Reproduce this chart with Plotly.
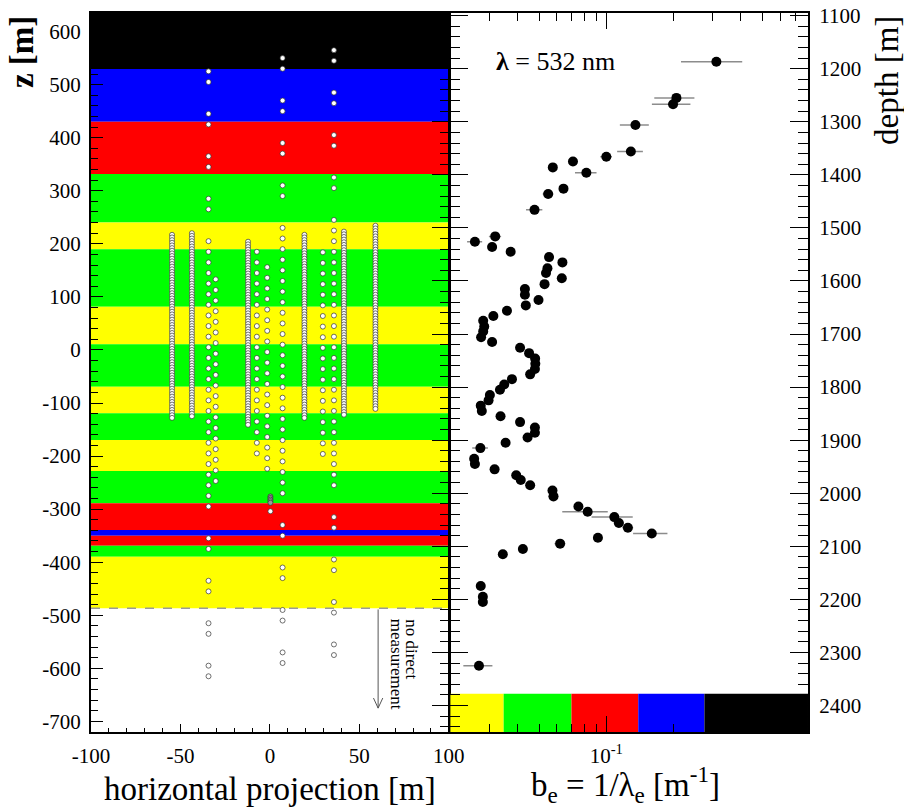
import numpy as np
import plotly.graph_objects as go

# ---------------- Left panel: detector geometry -----------------
# long strings (paired modules at the ends, 20 m spacing in the middle)
LONG_H = [-34.3, 7.1, 35.8]
LONG_Z = [
    [525, 505, 445, 425, 365, 345, 285, 265,
     205, 185, 165, 145, 125, 105, 85, 65, 45, 25, 5, -15, -35, -55, -75, -95,
     -115, -135, -155, -175, -195, -215, -235, -255, -275, -295,
     -355, -375, -435, -455, -515, -535, -595, -615],
    [550, 530, 470, 450, 390, 370, 310, 290,
     230, 210, 190, 170, 150, 130, 110, 90, 70, 50, 30, 10, -10, -30, -50, -70,
     -90, -110, -130, -150, -170, -190, -210, -230, -250, -270,
     -330, -350, -410, -430, -490, -510, -570, -590],
    [565, 545, 485, 465, 405, 385, 325, 305,
     245, 225, 205, 185, 165, 145, 125, 105, 85, 65, 45, 25, 5, -15, -35, -55,
     -75, -95, -115, -135, -155, -175, -195, -215, -235, -255,
     -315, -335, -395, -415, -475, -495, -555, -575],
]
# 20 m spaced strings
SPARSE_H = [-30.3, -7.3, -1.5, 29.6]
SPARSE_Z = [
    [133, 113, 93, 73, 53, 33, 13, -7, -27, -47, -67, -87, -107, -127, -147,
     -167, -187, -207, -227, -247],
    [185, 165, 145, 125, 105, 85, 65, 45, 25, 5, -15, -35, -55, -75, -95,
     -115, -135, -155, -175, -195],
    [156, 136, 116, 96, 76, 56, 36, 16, -4, -24, -44, -64, -84, -104, -124,
     -144, -164, -184, -204, -224],
    [184, 164, 144, 124, 104, 84, 64, 44, 24, 4, -16, -36, -56, -76, -96,
     -116, -136, -156, -176, -196],
]
# densely instrumented strings
DENSE_H = [-54.7, -43.6, -12.2, 19.3, 41.4, 59.0]
DENSE_Z = [
    [217, 212, 207, 202, 197, 192, 187, 182, 177, 172, 167, 162, 157, 152,
     147, 142, 137, 132, 127, 122, 117, 112, 107, 102, 97, 92, 87, 82, 77, 72,
     67, 62, 57, 52, 47, 42, 37, 32, 27, 22, 17, 12, 7, 2, -3, -8, -13, -18,
     -23, -28, -33, -38, -43, -48, -53, -58, -63, -68, -73, -78, -83, -88,
     -93, -98, -103, -108, -113, -118, -123, -128],
    [220, 215, 210, 205, 200, 195, 190, 185, 180, 175, 170, 165, 160, 155,
     150, 145, 140, 135, 130, 125, 120, 115, 110, 105, 100, 95, 90, 85, 80,
     75, 70, 65, 60, 55, 50, 45, 40, 35, 30, 25, 20, 15, 10, 5, 0, -5, -10,
     -15, -20, -25, -30, -35, -40, -45, -50, -55, -60, -65, -70, -75, -80,
     -85, -90, -95, -100, -105, -110, -115, -120, -125],
    [204, 199, 194, 189, 184, 179, 174, 169, 164, 159, 154, 149, 144, 139,
     134, 129, 124, 119, 114, 109, 104, 99, 94, 89, 84, 79, 74, 69, 64, 59,
     54, 49, 44, 39, 34, 29, 24, 19, 14, 9, 4, -1, -6, -11, -16, -21, -26,
     -31, -36, -41, -46, -51, -56, -61, -66, -71, -76, -81, -86, -91, -96,
     -101, -106, -111, -116, -121, -126, -131, -136, -141],
    [217, 212, 207, 202, 197, 192, 187, 182, 177, 172, 167, 162, 157, 152,
     147, 142, 137, 132, 127, 122, 117, 112, 107, 102, 97, 92, 87, 82, 77, 72,
     67, 62, 57, 52, 47, 42, 37, 32, 27, 22, 17, 12, 7, 2, -3, -8, -13, -18,
     -23, -28, -33, -38, -43, -48, -53, -58, -63, -68, -73, -78, -83, -88,
     -93, -98, -103, -108, -113, -118, -123, -128],
    [223, 218, 213, 208, 203, 198, 193, 188, 183, 178, 173, 168, 163, 158,
     153, 148, 143, 138, 133, 128, 123, 118, 113, 108, 103, 98, 93, 88, 83,
     78, 73, 68, 63, 58, 53, 48, 43, 38, 33, 28, 23, 18, 13, 8, 3, -2, -7,
     -12, -17, -22, -27, -32, -37, -42, -47, -52, -57, -62, -67, -72, -77,
     -82, -87, -92, -97, -102, -107, -112, -117, -122],
    [234, 229, 224, 219, 214, 209, 204, 199, 194, 189, 184, 179, 174, 169,
     164, 159, 154, 149, 144, 139, 134, 129, 124, 119, 114, 109, 104, 99, 94,
     89, 84, 79, 74, 69, 64, 59, 54, 49, 44, 39, 34, 29, 24, 19, 14, 9, 4,
     -1, -6, -11, -16, -21, -26, -31, -36, -41, -46, -51, -56, -61, -66, -71,
     -76, -81, -86, -91, -96, -101, -106, -111],
]
# small cluster of modules near h = 0
CLUSTER_H = [0.3, 0.3, 0.3, 0.3, 0.3]
CLUSTER_Z = [-276, -279, -282, -285, -288]
EXTRA_H = [0.3]
EXTRA_Z = [-304]

# ice layers (z boundaries, top to bottom) and colours
BAND_TOP = [635, 529.5, 430, 331.6, 240, 190, 81.5, 10.6, -69.3, -119.4,
            -169.8, -228.2, -289, -339.4, -350, -369, -389.7]
BAND_BOT = [529.5, 430, 331.6, 240, 190, 81.5, 10.6, -69.3, -119.4, -169.8,
            -228.2, -289, -339.4, -350, -369, -389.7, -487]
BAND_COL = ["black", "blue", "red", "lime", "yellow", "lime", "yellow", "lime",
            "yellow", "lime", "yellow", "lime", "red", "blue", "red", "lime",
            "yellow"]
NO_MEAS_Z = -487

# ---------------- Right panel: effective scattering -----------------
DEPTH = [1187, 1255, 1267, 1306, 1356, 1366, 1375, 1386, 1396, 1426, 1436,
         1466, 1516, 1526, 1536, 1545, 1555, 1565, 1576, 1585, 1595, 1606,
         1615, 1626, 1636, 1646, 1656, 1666, 1675, 1686, 1695, 1706, 1715,
         1726, 1736, 1746, 1756, 1766, 1776, 1785, 1795, 1805, 1815, 1825,
         1835, 1845, 1855, 1866, 1876, 1886, 1895, 1905, 1915, 1935, 1945,
         1955, 1966, 1975, 1985, 1995, 2006, 2025, 2035, 2045, 2056, 2065,
         2076, 2084, 2095, 2105, 2115, 2175, 2195, 2205, 2325]
BE = [0.311, 0.206, 0.199, 0.135, 0.1288, 0.100, 0.0709, 0.0576, 0.0814,
      0.0643, 0.0549, 0.0477, 0.0318, 0.0258, 0.0308, 0.0373, 0.0554, 0.0636,
      0.0545, 0.0537, 0.0632, 0.0529, 0.0432, 0.0432, 0.0497, 0.0436, 0.0359,
      0.0312, 0.0281, 0.0284, 0.0281, 0.0275, 0.0308, 0.0411, 0.0451, 0.0480,
      0.0481, 0.0479, 0.0456, 0.0378, 0.0349, 0.0334, 0.0301, 0.0297, 0.0274,
      0.0277, 0.0336, 0.0411, 0.0479, 0.0479, 0.0444, 0.0354, 0.0273, 0.0256,
      0.0258, 0.0316, 0.0395, 0.0414, 0.0456, 0.0574, 0.0580, 0.0750, 0.0825,
      0.1086, 0.1138, 0.1249, 0.1598, 0.0917, 0.0621, 0.0423, 0.0344, 0.0274,
      0.0280, 0.0280, 0.0269]
BE_ERR = [0.095, 0.042, 0.039, 0.020, 0.017, 0.006, 0.002, 0.002, 0.009,
          0.002, 0.003, 0.004, 0.002, 0.002, 0.001, 0.001, 0.002, 0.002,
          0.002, 0.002, 0.002, 0.002, 0.001, 0.001, 0.002, 0.001, 0.001,
          0.001, 0.001, 0.001, 0.001, 0.001, 0.001, 0.001, 0.001, 0.001,
          0.001, 0.001, 0.001, 0.001, 0.001, 0.001, 0.001, 0.001, 0.001,
          0.001, 0.001, 0.001, 0.001, 0.001, 0.001, 0.001, 0.0022, 0.001,
          0.001, 0.001, 0.001, 0.001, 0.001, 0.002, 0.003, 0.0025, 0.019,
          0.0227, 0.006, 0.007, 0.028, 0.0045, 0.0035, 0.002, 0.001, 0.001,
          0.001, 0.001, 0.004]

# colour scale of the layers (b_e thresholds)
SCALE_EDGES = [0.02, 0.0347, 0.0698, 0.139, 0.275, 0.8]
SCALE_COL = ["yellow", "lime", "red", "blue", "black"]
SCALE_DEPTH = [2378, 2450]

Z_RANGE = [-720, 635]
DEPTH_RANGE = [2450, 1095]
H_TICKS = [-100, -50, 0, 50, 100]
Z_TICKS = [-700, -600, -500, -400, -300, -200, -100, 0, 100, 200, 300, 400, 500, 600]
B_TICKS = [0.1]
B_MINOR = [0.03, 0.04, 0.05, 0.06, 0.07, 0.08, 0.09, 0.2, 0.3, 0.4, 0.5, 0.6, 0.7]

FONT = "Liberation Serif"

# ---- build module lists ----
mod_h, mod_z = [], []
for group_h, group_z in ((LONG_H, LONG_Z), (SPARSE_H, SPARSE_Z),
                         (DENSE_H, DENSE_Z)):
    for h, zs in zip(group_h, group_z):
        mod_h += [h] * len(zs)
        mod_z += zs
mod_h += EXTRA_H
mod_z += EXTRA_Z

fig = go.Figure()

fig.add_trace(go.Scatter(
    x=mod_h, y=mod_z, mode="markers", xaxis="x", yaxis="y",
    marker=dict(size=5, color="white", line=dict(color="#333333", width=0.7)),
    hoverinfo="skip", showlegend=False))
fig.add_trace(go.Scatter(
    x=CLUSTER_H, y=CLUSTER_Z, mode="markers", xaxis="x", yaxis="y",
    marker=dict(size=5, color="#9a9a9a", line=dict(color="#333333", width=0.7)),
    hoverinfo="skip", showlegend=False))

fig.add_trace(go.Scatter(
    x=BE, y=DEPTH, mode="markers", xaxis="x2", yaxis="y2",
    marker=dict(size=10, color="black"),
    error_x=dict(type="data", array=BE_ERR, color="#8c8c8c", thickness=1.5,
                 width=0),
    showlegend=False))
# helper trace for the crossing tick overlay axis
fig.add_trace(go.Scatter(x=[0.1], y=[1500], mode="markers", xaxis="x2",
                         yaxis="y3", marker=dict(opacity=0), hoverinfo="skip",
                         showlegend=False))

shapes = []
for t, b, c in zip(BAND_TOP, BAND_BOT, BAND_COL):
    shapes.append(dict(type="rect", xref="x", yref="y", x0=H_TICKS[0],
                       x1=H_TICKS[-1], y0=b, y1=t, fillcolor=c,
                       line=dict(width=0), layer="below"))
shapes.append(dict(type="line", xref="x", yref="y", x0=H_TICKS[0],
                   x1=H_TICKS[-1], y0=NO_MEAS_Z, y1=NO_MEAS_Z,
                   line=dict(color="#9a9a9a", width=1.5, dash="dash")))
shapes.append(dict(type="path", xref="x", yref="y",
                   path="M 60.5,-489 L 60.5,-675 M 57.9,-656 L 60.5,-675 L 63.1,-656",
                   line=dict(color="#555555", width=1)))
for i, c in enumerate(SCALE_COL):
    shapes.append(dict(type="rect", xref="x2", yref="y2",
                       x0=SCALE_EDGES[i], x1=SCALE_EDGES[i + 1],
                       y0=SCALE_DEPTH[0], y1=SCALE_DEPTH[1], fillcolor=c,
                       line=dict(width=0), layer="below"))

tickfont = dict(family=FONT, size=21, color="black")
def ann(text, x, y, xref="paper", yref="paper", size=33, angle=0,
        xanchor="center", yanchor="middle"):
    return dict(text=text, xref=xref, yref=yref, x=x, y=y, textangle=angle,
                xanchor=xanchor, yanchor=yanchor, showarrow=False,
                font=dict(family=FONT, size=size, color="black"))

annotations = [
    ann("horizontal projection [m]", 0.2497, -0.079),
    ann("b<sub>e</sub> = 1/λ<sub>e</sub> [m<sup>-1</sup>]", 0.746, -0.073),
    ann("depth [m]", 1.110, 0.9068, angle=-90),
    ann("<b>z [m]</b>", -0.0962, 0.9457, angle=-90),
    ann("<b>λ</b> = 532 nm", 0.293, 0.933, xref="x2 domain", yref="y2 domain",
        size=26),
    ann("no direct", 78.7, -503, xref="x", yref="y", size=17, angle=90,
        yanchor="top"),
    ann("measurement", 70.8, -503, xref="x", yref="y", size=17, angle=90,
        yanchor="top"),
]

axis_common = dict(showgrid=False, zeroline=False, showline=True,
                   linecolor="black", linewidth=2, tickcolor="black",
                   tickfont=tickfont, automargin=False)

fig.update_layout(
    template="none",
    font=dict(family=FONT, size=21, color="black"),
    width=904, height=810,
    margin=dict(l=91, r=96, t=13, b=78),
    paper_bgcolor="white", plot_bgcolor="white",
    showlegend=False,
    shapes=shapes, annotations=annotations,
    xaxis=dict(domain=[0, 0.499], range=[H_TICKS[0], H_TICKS[-1]],
               tickmode="array", tickvals=H_TICKS,
               ticktext=[str(v) for v in H_TICKS],
               ticks="inside", ticklen=8, mirror=True, anchor="y",
               ticklabelstandoff=4,
               minor=dict(dtick=10, ticks="inside", ticklen=4,
                          tickcolor="black"),
               **axis_common),
    yaxis=dict(range=Z_RANGE, tickmode="array", tickvals=Z_TICKS,
               ticktext=[str(v) for v in Z_TICKS], ticks="inside",
               ticklen=12, mirror=True, anchor="x", ticklabelstandoff=4,
               minor=dict(dtick=20, ticks="inside", ticklen=7,
                          tickcolor="black"),
               **axis_common),
    xaxis2=dict(domain=[0.501, 1], type="log",
                range=[np.log10(SCALE_EDGES[0]), np.log10(SCALE_EDGES[-1])],
                tickmode="array", tickvals=B_TICKS,
                ticktext=["10<sup>-1</sup>"], ticks="inside", ticklen=16,
                mirror="ticks", anchor="y2", ticklabelstandoff=4,
                minor=dict(tickmode="array", tickvals=B_MINOR, ticks="inside",
                           ticklen=8, tickcolor="black"),
                **axis_common),
    yaxis2=dict(range=DEPTH_RANGE, side="right", anchor="x2", dtick=100,
                tick0=1100, ticks="inside", ticklen=18, mirror="ticks",
                ticklabelstandoff=5,
                minor=dict(dtick=20, ticks="inside", ticklen=10,
                           tickcolor="black"),
                **axis_common),
    yaxis3=dict(range=DEPTH_RANGE, overlaying="y2", side="left", anchor="x2",
                dtick=100, tick0=1100, ticks="outside", ticklen=17,
                showticklabels=False, showline=False, showgrid=False,
                zeroline=False, tickcolor="black", automargin=False,
                minor=dict(dtick=20, ticks="outside", ticklen=9,
                           tickcolor="black")),
)

fig.write_html("out.html", config={"displayModeBar": False},
               post_script="document.body.style.margin='0px';")
